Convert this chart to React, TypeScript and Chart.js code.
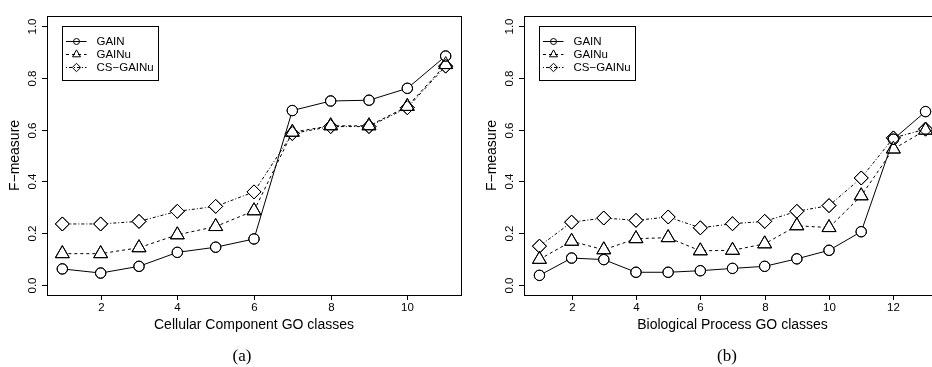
import React, { useEffect, useRef } from "react";
import { Chart, registerables } from "chart.js";

Chart.register(...registerables);

// ---------- data ----------
const SERIES_NAMES = ["GAIN", "GAINu", "CS\u2212GAINu"];

const CC_CLASSES = [1, 2, 3, 4, 5, 6, 7, 8, 9, 10, 11];
const CC_GAIN = [0.061, 0.045, 0.071, 0.125, 0.145, 0.177, 0.674, 0.711, 0.714, 0.76, 0.885];
const CC_GAINU = [0.12, 0.12, 0.143, 0.193, 0.225, 0.286, 0.59, 0.615, 0.615, 0.69, 0.852];
const CC_CSGAINU = [0.235, 0.235, 0.245, 0.284, 0.303, 0.359, 0.585, 0.612, 0.612, 0.685, 0.846];
const CC_X_TICKS = [2, 4, 6, 8, 10];

const BP_CLASSES = [1, 2, 3, 4, 5, 6, 7, 8, 9, 10, 11, 12, 13];
const BP_GAIN = [0.036, 0.103, 0.097, 0.048, 0.048, 0.054, 0.063, 0.071, 0.1, 0.133, 0.205, 0.563, 0.67];
const BP_GAINU = [0.098, 0.168, 0.135, 0.178, 0.182, 0.131, 0.133, 0.158, 0.228, 0.221, 0.344, 0.525, 0.598];
const BP_CSGAINU = [0.149, 0.242, 0.258, 0.249, 0.262, 0.22, 0.236, 0.245, 0.284, 0.306, 0.413, 0.568, 0.602];
const BP_X_TICKS = [2, 4, 6, 8, 10, 12];

const Y_TICKS = [0, 0.2, 0.4, 0.6, 0.8, 1.0];
const Y_TICK_LABELS = ["0.0", "0.2", "0.4", "0.6", "0.8", "1.0"];

const Y_TITLE = "F\u2212measure";

// ---------- styles ----------
const SANS = "'Liberation Sans', Arial, Helvetica, sans-serif";
const SERIF = "'Liberation Serif', 'Times New Roman', serif";
const STYLES = [
  { dash: [], pointStyle: "circle", radius: 5.2, legendR: 3 },
  { dash: [3, 3], pointStyle: "triangle", radius: 8, legendR: 4.6 },
  { dash: [1, 2, 3, 2], pointStyle: "rectRot", radius: 7, legendR: 4.2 },
];

function drawSymbol(ctx: CanvasRenderingContext2D, style: string, x: number, y: number, r: number) {
  ctx.beginPath();
  if (style === "circle") {
    ctx.arc(x, y, r, 0, Math.PI * 2);
  } else if (style === "triangle") {
    ctx.moveTo(x, y - r);
    ctx.lineTo(x + r * Math.cos(Math.PI / 6), y + r / 2);
    ctx.lineTo(x - r * Math.cos(Math.PI / 6), y + r / 2);
    ctx.closePath();
  } else {
    ctx.moveTo(x - r, y);
    ctx.lineTo(x, y - r);
    ctx.lineTo(x + r, y);
    ctx.lineTo(x, y + r);
    ctx.closePath();
  }
  ctx.stroke();
}

type PanelProps = {
  classes: number[];
  series: number[][];
  xTicks: number[];
  xTitle: string;
  tag: string;
  tagX: number;
  canvasLeft: number;
  canvasWidth: number;
  padding: { left: number; right: number; top: number; bottom: number };
};

function Panel(props: PanelProps) {
  const ref = useRef<HTMLCanvasElement | null>(null);

  useEffect(() => {
    const canvas = ref.current;
    if (!canvas) return;
    const { classes, series, xTicks, xTitle, tag, tagX, padding } = props;
    const n = classes.length;
    const ext = (n - 1) * 0.04;

    const datasets: any[] = [];
    series.forEach((vals, i) => {
      const st = STYLES[i];
      const pts = classes.map((c, k) => ({ x: c, y: vals[k] }));
      datasets.push({
        label: SERIES_NAMES[i],
        data: pts,
        borderColor: "#000",
        borderWidth: 1,
        borderDash: st.dash,
        tension: 0,
        fill: false,
        pointStyle: st.pointStyle,
        pointRadius: st.radius,
        pointBackgroundColor: "#fff",
        pointBorderColor: "#000",
        pointBorderWidth: 1,
        order: 1,
      });
    });
    series.forEach((vals, i) => {
      const st = STYLES[i];
      const pts = classes.map((c, k) => ({ x: c, y: vals[k] }));
      datasets.push({
        label: SERIES_NAMES[i] + " markers",
        data: pts,
        showLine: false,
        pointStyle: st.pointStyle,
        pointRadius: st.radius,
        pointBackgroundColor: "rgba(0,0,0,0)",
        pointBorderColor: "#000",
        pointBorderWidth: 1,
        order: 0,
      });
    });

    const rPlot = {
      id: "rPlot",
      afterDraw(chart: any) {
        const ctx: CanvasRenderingContext2D = chart.ctx;
        const { left, right, top, bottom } = chart.chartArea;
        const xs = chart.scales.x;
        const ys = chart.scales.y;
        ctx.save();
        ctx.strokeStyle = "#000";
        ctx.fillStyle = "#000";
        ctx.lineWidth = 1;
        ctx.setLineDash([]);
        // box
        ctx.strokeRect(Math.round(left) + 0.5, Math.round(top) + 0.5, Math.round(right - left), Math.round(bottom - top));
        // y axis
        ctx.font = `11.5px ${SANS}`;
        ctx.textAlign = "center";
        ctx.textBaseline = "middle";
        Y_TICKS.forEach((v, i) => {
          const py = Math.round(ys.getPixelForValue(v)) + 0.5;
          ctx.beginPath();
          ctx.moveTo(left - 5, py);
          ctx.lineTo(left, py);
          ctx.stroke();
          ctx.save();
          ctx.translate(left - 14, py);
          ctx.rotate(-Math.PI / 2);
          ctx.fillText(Y_TICK_LABELS[i], 0, 0);
          ctx.restore();
        });
        // x axis
        xTicks.forEach((v) => {
          const px = Math.round(xs.getPixelForValue(v)) + 0.5;
          ctx.beginPath();
          ctx.moveTo(px, bottom);
          ctx.lineTo(px, bottom + 5);
          ctx.stroke();
          ctx.fillText(String(v), px, bottom + 13);
        });
        // titles
        ctx.font = `14px ${SANS}`;
        ctx.fillText(xTitle, (left + right) / 2, bottom + 30);
        ctx.save();
        ctx.translate(left - 32, (top + bottom) / 2);
        ctx.rotate(-Math.PI / 2);
        ctx.fillText(Y_TITLE, 0, 0);
        ctx.restore();
        // panel tag
        ctx.font = `17px ${SERIF}`;
        ctx.fillText(tag, tagX, 357);
        // legend
        const lx = Math.round(xs.getPixelForValue(classes[0])) + 0.5;
        const ly = Math.round(ys.getPixelForValue(1.0)) + 0.5;
        ctx.strokeRect(lx, ly, 96, 54);
        ctx.font = `11.5px ${SANS}`;
        ctx.textAlign = "left";
        SERIES_NAMES.forEach((name, i) => {
          const st = STYLES[i];
          const ry = ly + 15 + i * 13;
          ctx.setLineDash(st.dash);
          ctx.beginPath();
          ctx.moveTo(lx + 3.5, ry);
          ctx.lineTo(lx + 24, ry);
          ctx.stroke();
          ctx.setLineDash([]);
          drawSymbol(ctx, st.pointStyle, lx + 14, ry, st.legendR);
          ctx.fillText(name, lx + 34, ry);
        });
        ctx.restore();
      },
    };

    const chart = new Chart(canvas, {
      type: "line",
      data: { datasets },
      options: {
        responsive: false,
        animation: false,
        devicePixelRatio: 1,
        events: [],
        layout: { padding },
        plugins: { legend: { display: false }, tooltip: { enabled: false }, title: { display: false } },
        scales: {
          x: { type: "linear", min: classes[0] - ext, max: classes[n - 1] + ext, display: false },
          y: { type: "linear", min: -0.04, max: 1.04, display: false },
        },
      } as any,
      plugins: [rPlot as any],
    });
    return () => chart.destroy();
  }, []);

  return (
    <canvas
      ref={ref}
      width={props.canvasWidth}
      height={367}
      style={{ position: "absolute", left: props.canvasLeft, top: 0, width: props.canvasWidth, height: 367 }}
    />
  );
}

export default function App() {
  return (
    <div
      style={{
        position: "fixed",
        left: 0,
        top: 0,
        width: 932,
        height: 367,
        overflow: "hidden",
        background: "#fff",
      }}
    >
      <Panel
        classes={CC_CLASSES}
        series={[CC_GAIN, CC_GAINU, CC_CSGAINU]}
        xTicks={CC_X_TICKS}
        xTitle="Cellular Component GO classes"
        tag="(a)"
        tagX={242}
        canvasLeft={0}
        canvasWidth={470}
        padding={{ left: 47, right: 5, top: 16, bottom: 72 }}
      />
      <Panel
        classes={BP_CLASSES}
        series={[BP_GAIN, BP_GAINU, BP_CSGAINU]}
        xTicks={BP_X_TICKS}
        xTitle="Biological Process GO classes"
        tag="(b)"
        tagX={257}
        canvasLeft={470}
        canvasWidth={480}
        padding={{ left: 54, right: 8, top: 16, bottom: 72 }}
      />
    </div>
  );
}
